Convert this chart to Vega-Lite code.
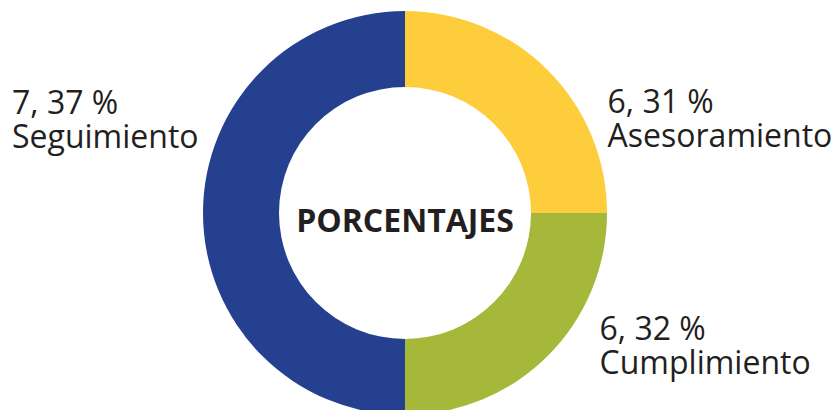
{
  "$schema": "https://vega.github.io/schema/vega-lite/v6.json",
  "width": 810,
  "height": 394,
  "autosize": {"type": "none"},
  "padding": {"left": 0, "top": 16, "right": 23, "bottom": 0},
  "background": "white",
  "view": {"stroke": null},
  "data": {
    "values": [
      {"categoria": "Asesoramiento", "orden": 1, "sector": 25, "casos": 6, "porcentaje": 31, "etiqueta": "6, 31 %\nAsesoramiento"},
      {"categoria": "Cumplimiento", "orden": 2, "sector": 25, "casos": 6, "porcentaje": 32, "etiqueta": "6, 32 %\nCumplimiento"},
      {"categoria": "Seguimiento", "orden": 3, "sector": 50, "casos": 7, "porcentaje": 37, "etiqueta": "7, 37 %\nSeguimiento"}
    ]
  },
  "layer": [
    {
      "mark": {"type": "arc", "outerRadius": 202, "innerRadius": 126},
      "encoding": {
        "theta": {"field": "sector", "type": "quantitative", "stack": true},
        "order": {"field": "orden", "type": "quantitative"},
        "color": {
          "field": "categoria",
          "type": "nominal",
          "scale": {"domain": ["Asesoramiento", "Cumplimiento", "Seguimiento"], "range": ["#FECD3B", "#A6B839", "#25408E"]},
          "legend": null
        }
      }
    },
    {
      "mark": {
        "type": "text",
        "radius": 220,
        "align": "left",
        "baseline": "middle",
        "lineBreak": "\n",
        "lineHeight": 34,
        "font": "Open Sans",
        "fontSize": 32,
        "color": "#231F20",
        "dx": {"expr": "datum.categoria === 'Asesoramiento' ? 47 : datum.categoria === 'Cumplimiento' ? 39 : -173"},
        "dy": {"expr": "datum.categoria === 'Asesoramiento' ? 46 : datum.categoria === 'Cumplimiento' ? -39 : -109"}
      },
      "encoding": {
        "theta": {"field": "sector", "type": "quantitative", "stack": true},
        "order": {"field": "orden", "type": "quantitative"},
        "text": {"field": "etiqueta", "type": "nominal"}
      }
    },
    {
      "data": {"values": [{"titulo": "PORCENTAJES"}]},
      "mark": {
        "type": "text",
        "align": "center",
        "baseline": "middle",
        "font": "Open Sans",
        "fontWeight": "bold",
        "fontSize": 32,
        "color": "#231F20",
        "dy": 9
      },
      "encoding": {
        "text": {"field": "titulo", "type": "nominal"}
      }
    }
  ]
}
